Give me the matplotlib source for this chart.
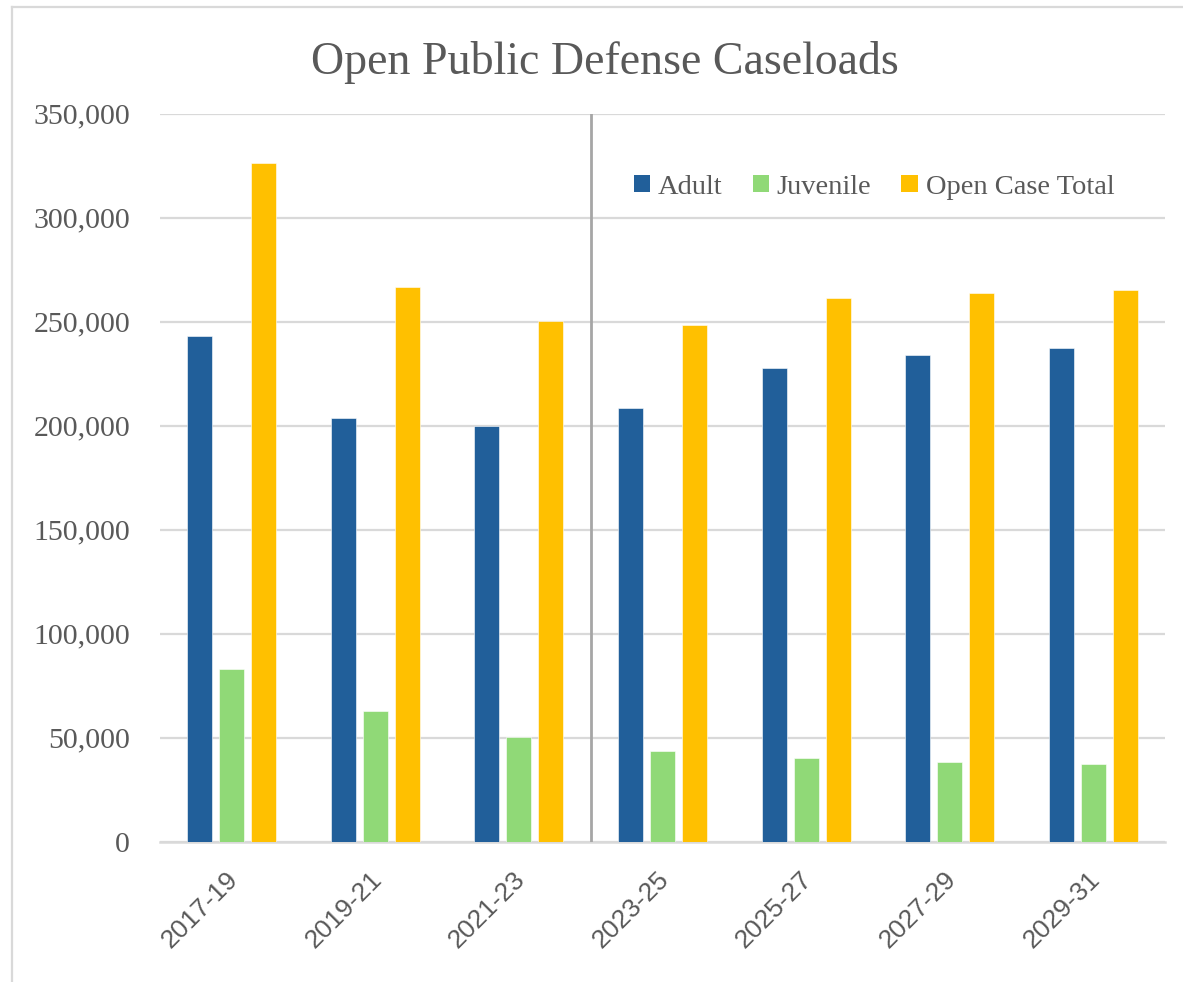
import matplotlib
matplotlib.use("Agg")
import matplotlib.pyplot as plt
import numpy as np
from matplotlib.ticker import FuncFormatter, MultipleLocator
from matplotlib.lines import Line2D
from matplotlib.patches import Patch
from matplotlib.transforms import ScaledTranslation

categories = ["2017-19", "2019-21", "2021-23", "2023-25", "2025-27", "2027-29", "2029-31"]
adult = [243000, 203600, 199700, 208400, 227800, 233700, 237100]
juvenile = [82800, 63000, 50300, 43600, 40200, 38300, 37300]
open_total = [326000, 266700, 250200, 248400, 261300, 263500, 265100]
series_names = ["Adult", "Juvenile", "Open Case Total"]

colors = ["#215F9A", "#90D977", "#FFC000"]
text_color = "#595959"
grid_color = "#D9D9D9"

W, H = 1183, 982
fig = plt.figure(figsize=(W / 100, H / 100), dpi=100)
fig.patch.set_facecolor("white")

ax = fig.add_axes([160 / W, 1 - 841.7 / H, (1165 - 160) / W, (841.7 - 113.5) / H])

x = np.arange(len(categories))
bw = 0.174
step = 0.223
for i, (vals, c) in enumerate(zip([adult, juvenile, open_total], colors)):
    ax.bar(x + (i - 1) * step, vals, width=bw, color=c, edgecolor="white",
           linewidth=0.4, zorder=3, label=series_names[i])

ax.set_xlim(-0.5, len(categories) - 0.5)
ax.set_ylim(0, 350000)
ax.yaxis.set_major_locator(MultipleLocator(50000))
ax.yaxis.set_major_formatter(FuncFormatter(lambda v, p: f"{int(v):,}"))
ax.grid(axis="y", color=grid_color, linewidth=1.6, zorder=0)
ax.set_axisbelow(True)
for s in ["top", "right", "left"]:
    ax.spines[s].set_visible(False)
ax.spines["bottom"].set_color(grid_color)
ax.spines["bottom"].set_linewidth(1.8)
ax.tick_params(axis="both", length=0)
ax.tick_params(axis="y", pad=21.5, labelcolor=text_color)
ax.tick_params(axis="x", pad=10, labelcolor=text_color)
for lab in ax.get_yticklabels():
    lab.set_fontfamily("Liberation Serif")
    lab.set_fontsize(21.5)

ax.set_xticks(x)
ax.set_xticklabels(categories, rotation=45, ha="right", rotation_mode="anchor",
                   fontfamily="Liberation Sans", fontsize=19, color=text_color)
offset = ScaledTranslation(-6 / 100, -11 / 100, fig.dpi_scale_trans)
for lab in ax.get_xticklabels():
    lab.set_transform(lab.get_transform() + offset)

ax.axvline(2.5, color="#A6A6A6", linewidth=2.0, zorder=4)

fig.text(605 / W, 1 - 62 / H, "Open Public Defense Caseloads", ha="center", va="center",
         fontfamily="Liberation Serif", fontsize=33, color=text_color)

handles = [Patch(facecolor=c, edgecolor="none") for c in colors]
leg = fig.legend(handles, series_names, loc="center", bbox_to_anchor=(874 / W, 1 - 187 / H),
                 ncol=3, frameon=False, handlelength=0.58, handleheight=0.58,
                 handletextpad=0.27, columnspacing=1.05, borderpad=0, borderaxespad=0,
                 prop={"family": "Liberation Serif", "size": 20.5})
for t in leg.get_texts():
    t.set_color(text_color)

# outer chart frame (left and top edges visible)
fig.add_artist(Line2D([12 / W, 12 / W], [0, 1 - 7 / H], transform=fig.transFigure,
                      color=grid_color, linewidth=1.6))
fig.add_artist(Line2D([12 / W, 1], [1 - 7 / H, 1 - 7 / H], transform=fig.transFigure,
                      color=grid_color, linewidth=1.6))

fig.savefig("out.png", dpi=100)
